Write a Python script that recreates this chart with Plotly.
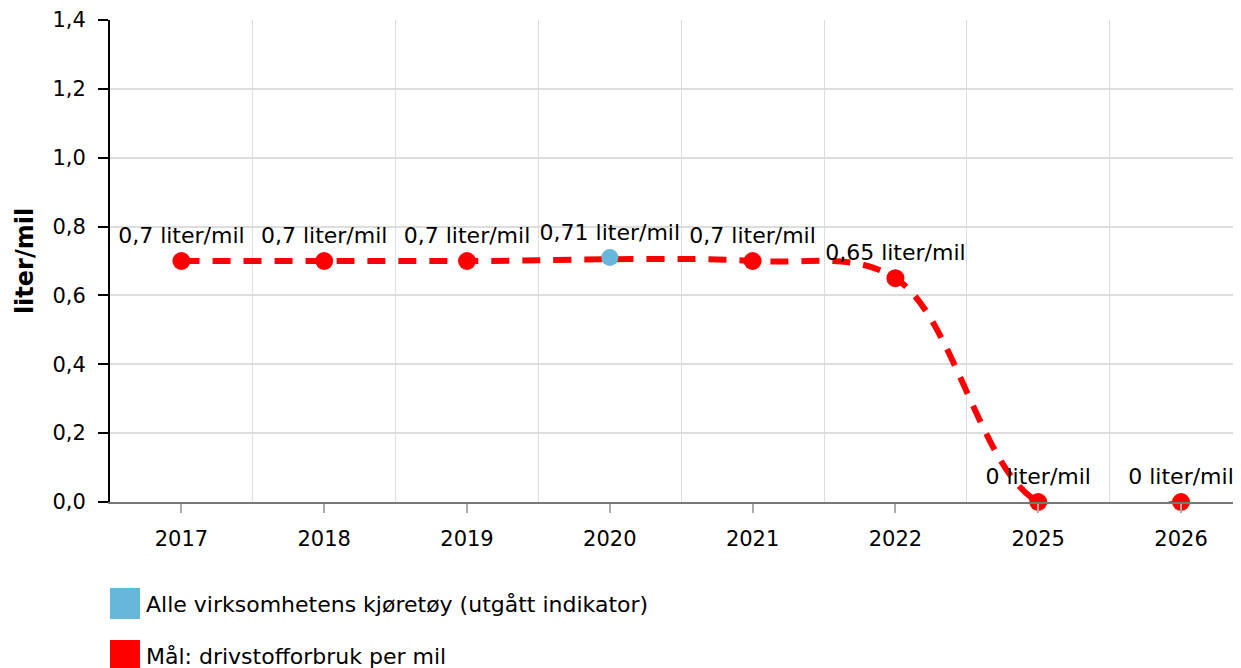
import plotly.graph_objects as go

# data
years = ["2017", "2018", "2019", "2020", "2021", "2022", "2025", "2026"]
alle_kjoretoy = [None, None, None, 0.71, None, None, None, None]
maal = [0.7, 0.7, 0.7, None, 0.7, 0.65, 0.0, 0.0]

legend_names = ["Alle virksomhetens kjøretøy (utgått indikator)",
                "Mål: drivstofforbruk per mil"]
BLUE = "#67b7dc"
RED = "#ff0000"
FONT = "DejaVu Sans"

# the page body adds an 8px offset, so the figure is a bit smaller than the window
W, H = 1233, 660
M_L, M_R, M_T, M_B = 102, 0, 12, 166
plot_w = W - M_L - M_R
plot_h = H - M_T - M_B


def fmt(v):
    return f"{v:g}".replace(".", ",") + " liter/mil"


fig = go.Figure()

# hidden trace to carry the boundary grid axis
fig.add_trace(go.Scatter(x=years, y=[None] * len(years), xaxis="x", yaxis="y",
                         showlegend=False, hoverinfo="skip"))

fig.add_trace(go.Scatter(
    x=years, y=maal, xaxis="x2", yaxis="y",
    mode="lines+markers+text", connectgaps=True,
    line=dict(color=RED, width=6, dash="18px,13px", shape="spline", smoothing=1),
    marker=dict(color=RED, size=18),
    text=[fmt(v) if v is not None else "" for v in maal],
    textposition="top center", textfont=dict(size=22, color="#000"),
    name=legend_names[1], showlegend=False, cliponaxis=False,
))
fig.add_trace(go.Scatter(
    x=years, y=alle_kjoretoy, xaxis="x2", yaxis="y",
    mode="markers+text",
    marker=dict(color=BLUE, size=17),
    text=[fmt(v) if v is not None else "" for v in alle_kjoretoy],
    textposition="top center", textfont=dict(size=22, color="#000"),
    name=legend_names[0], showlegend=False, cliponaxis=False,
))

xrange = [-0.5, 7.42]
fig.update_layout(
    width=W, height=H,
    margin=dict(l=M_L, r=M_R, t=M_T, b=M_B),
    paper_bgcolor="white", plot_bgcolor="white",
    separators=", ",
    font=dict(family=FONT, size=21, color="#000"),
    showlegend=False,
    xaxis=dict(type="category", categoryorder="array", categoryarray=years,
               range=xrange, tickson="boundaries", showgrid=True,
               gridcolor="#dddddd", gridwidth=1, showticklabels=False,
               ticks="", showline=False, zeroline=False, automargin=False),
    xaxis2=dict(type="category", categoryorder="array", categoryarray=years,
                range=xrange, overlaying="x", side="bottom", showgrid=False,
                ticks="outside", ticklen=9, tickcolor="#aaaaaa", tickwidth=2,
                ticklabelstandoff=8, automargin=False,
                showline=True, linecolor="#777777", linewidth=2,
                tickfont=dict(size=21, color="#000")),
    yaxis=dict(range=[0, 1.4], dtick=0.2, tickformat=".1f",
               showgrid=True, gridcolor="#dddddd", gridwidth=2,
               ticks="outside", ticklen=10, tickcolor="#000", tickwidth=2,
               ticklabelstandoff=8, automargin=False,
               showline=True, linecolor="#000", linewidth=2, zeroline=False,
               tickfont=dict(size=21, color="#000"),
               title=dict(text="<b>liter/mil</b>", font=dict(size=24),
                          standoff=12)),
)


# legend drawn as squares + labels below the plot
def py_to_paper(py):
    return (H - M_B - py) / plot_h


for i, (name, col) in enumerate(zip(legend_names, [BLUE, RED])):
    top = 580 + i * 52
    fig.add_shape(type="rect", xref="paper", yref="paper",
                  x0=0, x1=30 / plot_w,
                  y0=py_to_paper(top + 31), y1=py_to_paper(top),
                  fillcolor=col, line=dict(width=0))
    fig.add_annotation(xref="paper", yref="paper", x=34 / plot_w,
                       y=py_to_paper(top + 16), text=name, showarrow=False,
                       xanchor="left", yanchor="middle",
                       font=dict(size=22, color="#000"))

fig.write_html("out.html")
